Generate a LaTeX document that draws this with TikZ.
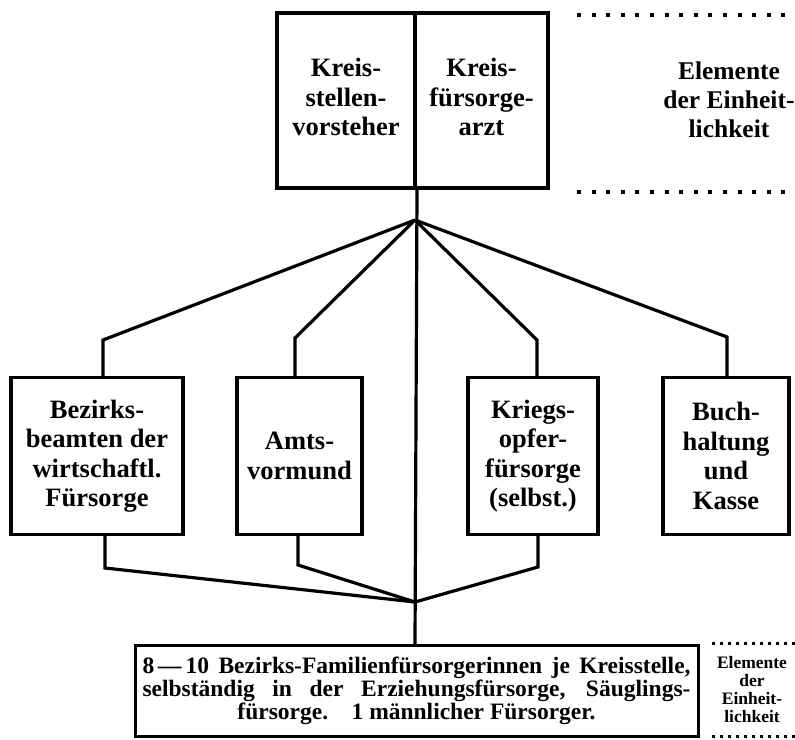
\documentclass[tikz,border=0pt]{standalone}
\usepackage{fontspec}
\setmainfont{Liberation Serif}
\begin{document}
\begin{tikzpicture}[x=1pt,y=-1pt,
  box/.style={draw, line width=3.3pt, rectangle, inner sep=0pt, align=center,
    font=\fontsize{26.5}{29.5}\selectfont\bfseries},
  conn/.style={line width=3.2pt, line join=miter},
  dotsbig/.style={line width=4pt, dash pattern=on 4pt off 10.6pt},
  dotssmall/.style={line width=3pt, dash pattern=on 3pt off 5pt},
  sidetext/.style={align=center, font=\fontsize{25.5}{29}\selectfont\bfseries}]
\useasboundingbox (0,0) rectangle (795,739);

% top boxes
\node[box, line width=4pt, minimum width=138pt, minimum height=175pt] (ksv) at (346,100.5)
  {\raisebox{9pt}{\begin{tabular}{@{}c@{}}Kreis-\\stellen-\\vorsteher\end{tabular}}};
\node[box, line width=4pt, minimum width=133pt, minimum height=175pt] (kfa) at (481.5,100.5)
  {\raisebox{9pt}{\begin{tabular}{@{}c@{}}Kreis-\\fürsorge-\\arzt\end{tabular}}};

\coordinate (hub) at (415,220);
\coordinate (hubb) at (415,602);

% middle boxes
\node[box, minimum width=172pt, minimum height=157pt] (bez) at (97,456) {Bezirks-\\beamten der\\wirtschaftl.\\Fürsorge};
\node[box, minimum width=125pt, minimum height=157pt] (amt) at (299.5,456) {Amts-\\vormund};
\node[box, minimum width=130pt, minimum height=157pt] (krieg) at (533,456) {Kriegs-\\opfer-\\fürsorge\\(selbst.)};
\node[box, minimum width=126pt, minimum height=157pt] (buch) at (726,456) {Buch-\\haltung\\und\\Kasse};

% bottom box
\node[draw, line width=3pt, minimum width=563pt, minimum height=91pt, inner sep=0pt, align=center,
  font=\fontsize{23.5}{23}\selectfont\bfseries] (bot) at (416.5,691)
  {\makebox[548pt][s]{8\,---\,10 Bezirks-Familienfürsorgerinnen je Kreisstelle,}\\
   \makebox[548pt][s]{selbständig in der Erziehungsfürsorge, Säuglings-}\\
   fürsorge.\quad 1 männlicher Fürsorger.};

% connectors
\draw[conn] (ksv.south east) -- (bot.north -| hub);
\coordinate (bezT) at (103,340);
\coordinate (amtT) at (295,338);
\coordinate (kriT) at (537,340);
\coordinate (buchT) at (727,337);
\draw[conn] (hub) -- (bezT) -- (bezT |- bez.north);
\draw[conn] (hub) -- (amtT) -- (amtT |- amt.north);
\draw[conn] (hub) -- (kriT) -- (kriT |- krieg.north);
\draw[conn] (hub) -- (buchT) -- (buchT |- buch.north);
\coordinate (bezB) at (105,568);
\coordinate (amtB) at (298,565);
\coordinate (kriB) at (538,567);
\draw[conn] (bezB |- bez.south) -- (bezB) -- (hubb);
\draw[conn] (amtB |- amt.south) -- (amtB) -- (hubb);
\draw[conn] (kriB |- krieg.south) -- (kriB) -- (hubb);

% side annotations
\coordinate (d1a) at (577,15); \coordinate (d1b) at (795,15);
\coordinate (d2a) at (577,192); \coordinate (d2b) at (795,192);
\draw[dotsbig] (d1a) -- (d1b);
\draw[dotsbig] (d2a) -- (d2b);
\node[sidetext] (elem1) at (729,100) {Elemente\\der Einheit-\\lichkeit};

\coordinate (d3a) at (712,643); \coordinate (d3b) at (795,643);
\coordinate (d4a) at (712,736); \coordinate (d4b) at (795,736);
\draw[dotssmall] (d3a) -- (d3b);
\draw[dotssmall] (d4a) -- (d4b);
\node[sidetext, font=\fontsize{17.5}{18}\selectfont\bfseries] (elem2) at (752,690) {Elemente\\der\\Einheit-\\lichkeit};
\end{tikzpicture}
\end{document}
